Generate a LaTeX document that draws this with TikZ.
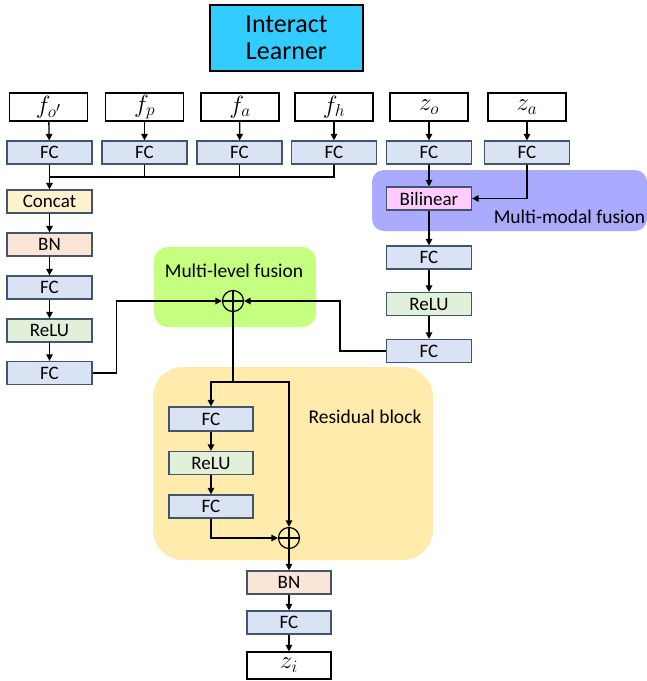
\documentclass[tikz,border=0pt]{standalone}
\usepackage{fontspec}
\setmainfont{Carlito}
\usetikzlibrary{arrows.meta}
\DeclareMathSizes{24}{24}{19}{14}
\definecolor{fcfill}{RGB}{218,227,243}
\definecolor{relufill}{RGB}{226,240,217}
\definecolor{bnfill}{RGB}{251,229,214}
\definecolor{catfill}{RGB}{255,242,204}
\definecolor{bilfill}{RGB}{255,204,255}
\definecolor{blkline}{RGB}{68,84,106}
\definecolor{titlefill}{RGB}{51,204,255}
\definecolor{mmfill}{RGB}{170,170,255}
\definecolor{mlfill}{RGB}{196,255,128}
\definecolor{resfill}{RGB}{255,236,172}
\begin{document}
\begin{tikzpicture}[x=1pt, y=-1pt,
		blk/.style={draw=blkline, line width=1.2pt, minimum width=85pt, minimum height=23pt, inner sep=0pt, font=\fontsize{19}{19}\selectfont},
		fc/.style={blk, fill=fcfill},
		relu/.style={blk, fill=relufill},
		bn/.style={blk, fill=bnfill},
		inp/.style={draw, line width=1.2pt, fill=white, minimum width=78pt, minimum height=28pt, inner sep=0pt, font=\fontsize{24}{24}\selectfont},
		sum/.style={circle, draw, line width=1.2pt, minimum size=21pt, inner sep=0pt,
			path picture={\draw[line width=1.2pt] (path picture bounding box.north) -- (path picture bounding box.south)
				(path picture bounding box.west) -- (path picture bounding box.east);}},
		lbl/.style={font=\fontsize{19.5}{19.5}\selectfont},
		arr/.style={-{Triangle[length=6.5pt,width=6.5pt]}, line width=1.3pt},
		ln/.style={line width=1.3pt}
		]
	\useasboundingbox (0,0) rectangle (647,681);

	% group backgrounds
	\fill[mmfill, rounded corners=12pt] (372,170) rectangle (647,231);
	\fill[mlfill, rounded corners=14pt] (154,247) rectangle (316,327);
	\fill[resfill, rounded corners=30pt] (153,367) rectangle (433,560);
	\node[lbl] (mmtxt) at (569.5,217) {Multi-modal fusion};
	\node[lbl] (mltxt) at (234,271) {Multi-level fusion};
	\node[lbl] (restxt) at (365,417) {Residual block};

	\node[draw, line width=1.8pt, fill=titlefill, minimum width=153pt, minimum height=66pt, inner sep=0pt, align=center,
		font=\fontsize{26}{27}\selectfont] (title) at (286.5,38) {Interact\\Learner};

	% inputs
	\node[inp] (fo) at (48.5,107) {$f_{o'}$};
	\node[inp] (fp) at (144.5,107) {$f_p$};
	\node[inp] (fa) at (240,107) {$f_a$};
	\node[inp] (fh) at (334,107) {$f_h$};
	\node[inp] (zo) at (429,107) {$z_o$};
	\node[inp] (za) at (527,107) {$z_a$};

	\node[fc] (fc1) at (49.5,152.5) {FC};
	\node[fc] (fc2) at (144.5,152.5) {FC};
	\node[fc] (fc3) at (239.5,152.5) {FC};
	\node[fc] (fc4) at (334,152.5) {FC};
	\node[fc] (fc5) at (429,152.5) {FC};
	\node[fc] (fc6) at (527,152.5) {FC};
	\foreach \a/\b in {fo/fc1, fp/fc2, fa/fc3, fh/fc4, zo/fc5, za/fc6}
		\draw[arr] (\a) -- (\b);

	% left branch
	\node[blk, fill=catfill] (cat) at (49.5,201.5) {Concat};
	\node[bn] (lbn) at (49.5,244.5) {BN};
	\node[fc] (lfc1) at (49.5,287.5) {FC};
	\node[relu] (lrelu) at (49.5,330.5) {ReLU};
	\node[fc] (lfc2) at (49.5,373) {FC};
	\coordinate (mrg) at (49.5,177);
	\draw[ln] (fc1) -- (mrg);
	\draw[ln] (fc4.south) |- (mrg);
	\draw[ln] (fc2.south) -- (fc2.south |- mrg);
	\draw[ln] (fc3.south) -- (fc3.south |- mrg);
	\draw[arr] (mrg) -- (cat);
	\draw[arr] (cat) -- (lbn);
	\draw[arr] (lbn) -- (lfc1);
	\draw[arr] (lfc1) -- (lrelu);
	\draw[arr] (lrelu) -- (lfc2);

	% right branch
	\node[blk, fill=bilfill] (bil) at (429,198.5) {Bilinear};
	\node[fc] (rfc1) at (429,257.5) {FC};
	\node[relu] (rrelu) at (429,304) {ReLU};
	\node[fc] (rfc2) at (429,351) {FC};
	\draw[arr] (fc5) -- (bil);
	\draw[arr] (fc6.south) |- (bil.east);
	\draw[arr] (bil) -- (rfc1);
	\draw[arr] (rfc1) -- (rrelu);
	\draw[arr] (rrelu) -- (rfc2);

	% fusion
	\node[sum] (add1) at (233,301) {};
	\draw[arr] (lfc2.east) -- ++(24,0) |- (add1.west);
	\draw[arr] (rfc2.west) -- ++(-46,0) |- (add1.east);

	% residual block
	\node[fc, minimum width=84pt, minimum height=24pt] (res1) at (211,419) {FC};
	\node[relu, minimum width=84pt] (res2) at (211,463) {ReLU};
	\node[fc, minimum width=84pt] (res3) at (211,506.5) {FC};
	\node[sum] (add2) at (289,538) {};
	\coordinate (split) at (233,382);
	\draw[ln] (add1) -- (split);
	\draw[arr] (split) -| (res1.north);
	\draw[arr] (split) -| (add2.north);
	\draw[arr] (res1) -- (res2);
	\draw[arr] (res2) -- (res3);
	\draw[arr] (res3.south) |- (add2.west);

	% output
	\node[bn, minimum width=84pt] (obn) at (289,582.5) {BN};
	\node[fc, minimum width=84pt] (ofc) at (289,622.5) {FC};
	\node[inp, minimum width=84pt, minimum height=27pt] (zi) at (289,665.5) {$z_i$};
	\draw[arr] (add2) -- (obn);
	\draw[arr] (obn) -- (ofc);
	\draw[arr] (ofc) -- (zi);
\end{tikzpicture}
\end{document}
